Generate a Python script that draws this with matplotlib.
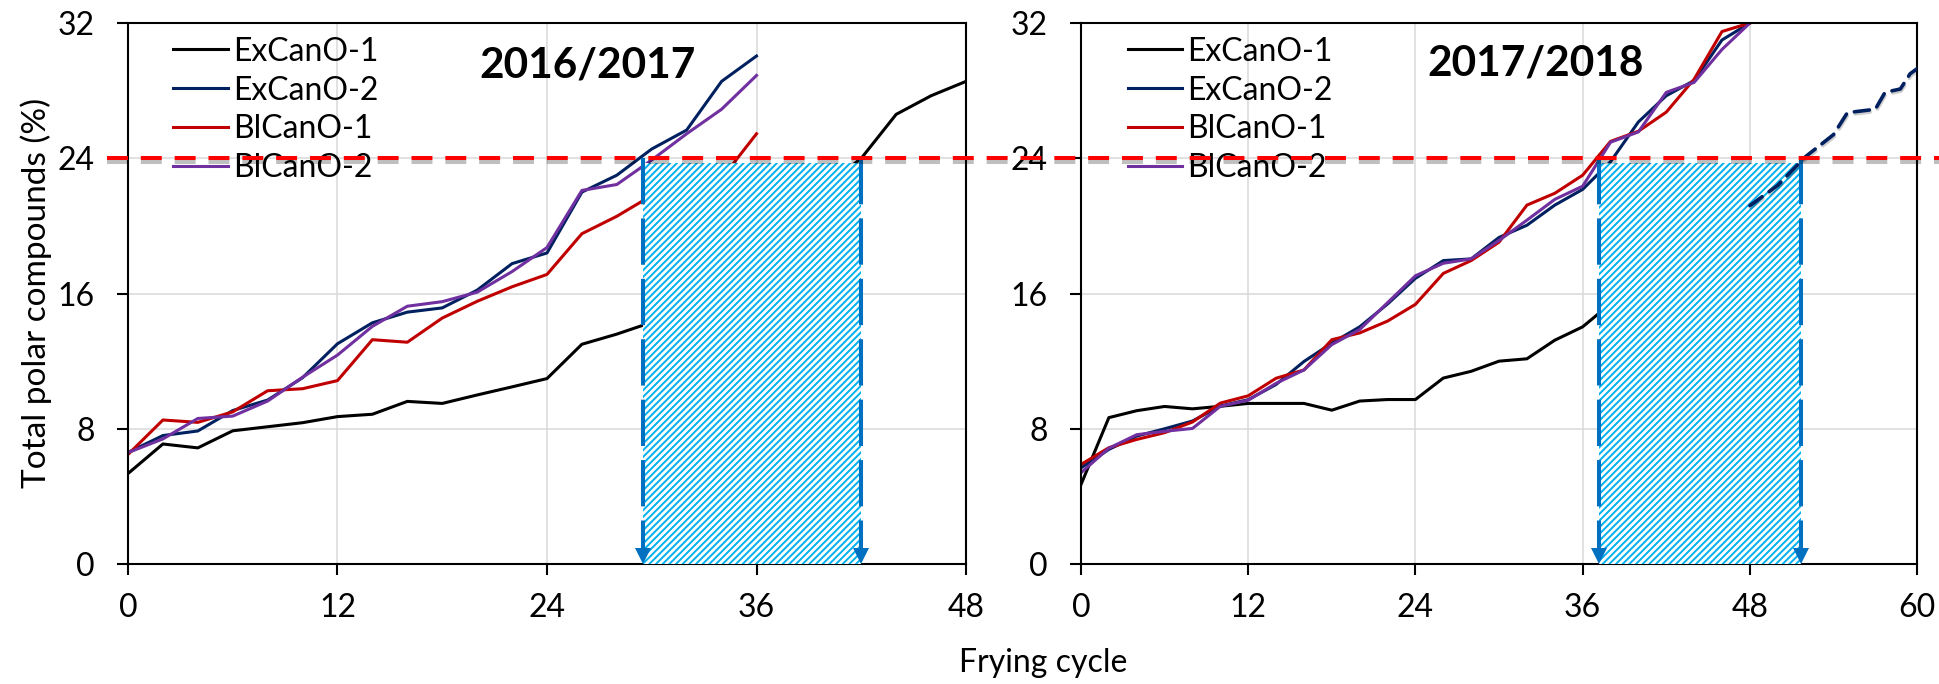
import matplotlib
matplotlib.use("Agg")
import matplotlib.pyplot as plt
import matplotlib.transforms as mtransforms
from matplotlib import patheffects as pe
from matplotlib.lines import Line2D
from matplotlib.patches import Rectangle

plt.rcParams['font.family'] = ['Lato', 'DejaVu Sans']
plt.rcParams['hatch.linewidth'] = 1.4

labels = ["ExCanO-1", "ExCanO-2", "BlCanO-1", "BlCanO-2"]
colors = ["#000000", "#002060", "#C00000", "#7030A0"]

# 2016/2017 season
ex1_a_x = [0, 2, 4, 6, 8, 10, 12, 14, 16, 18, 20, 22, 24, 26, 28, 30, 42, 44, 46, 48]
ex1_a = [5.35, 7.1, 6.87, 7.88, 8.12, 8.36, 8.72, 8.86, 9.62, 9.5, 10.0, 10.48, 10.97,
         13.0, 13.6, 14.3, 24.0, 26.6, 27.7, 28.55]
cyc_a = [0, 2, 4, 6, 8, 10, 12, 14, 16, 18, 20, 22, 24, 26, 28, 30, 32, 34, 36]
ex2_a = [6.6, 7.6, 7.87, 9.08, 9.7, 11.02, 13.03, 14.27, 14.9, 15.15, 16.2, 17.77, 18.4,
         22.0, 23.0, 24.55, 25.67, 28.55, 30.05]
bl1_a_x = [0, 2, 4, 6, 8, 10, 12, 14, 16, 18, 20, 22, 24, 26, 28, 30, 34, 36]
bl1_a = [6.48, 8.52, 8.38, 9.0, 10.25, 10.37, 10.85, 13.27, 13.12, 14.55, 15.54, 16.4,
         17.13, 19.54, 20.57, 21.8, 22.8, 25.45]
bl2_a = [6.59, 7.4, 8.61, 8.75, 9.64, 11.05, 12.36, 14.06, 15.25, 15.52, 16.08, 17.3, 18.72,
         22.1, 22.45, 23.9, 25.45, 26.9, 28.9]

# 2017/2018 season
ex1_b_x = [0, 2, 4, 6, 8, 10, 12, 14, 16, 18, 20, 22, 24, 26, 28, 30, 32, 34, 36, 38]
ex1_b = [4.7, 8.66, 9.07, 9.32, 9.18, 9.33, 9.5, 9.5, 9.5, 9.1, 9.64, 9.73, 9.73, 11.0,
         11.4, 12.0, 12.14, 13.24, 14.03, 15.4]
ex1_proj_x = [48, 50, 52, 54, 55, 57, 57.7, 58.8, 59.5, 60]
ex1_proj = [21.2, 22.4, 24.1, 25.4, 26.7, 26.9, 27.9, 28.1, 29.0, 29.3]
cyc_b = [0, 2, 4, 6, 8, 10, 12, 14, 16, 18, 20, 22, 24, 26, 28, 30, 32, 34, 36, 38, 40,
         42, 44, 46, 48]
ex2_b = [5.69, 6.78, 7.57, 8.0, 8.46, 9.35, 9.72, 10.62, 11.98, 13.07, 14.03, 15.38, 16.9,
         17.95, 18.05, 19.32, 20.04, 21.23, 22.16, 23.8, 26.15, 27.7, 28.6, 31.0, 32.0]
bl1_b = [5.89, 6.88, 7.37, 7.77, 8.4, 9.52, 9.95, 10.99, 11.48, 13.27, 13.67, 14.37, 15.36,
         17.19, 17.95, 19.04, 21.23, 21.93, 23.0, 25.0, 25.6, 26.73, 28.68, 31.5, 32.0]
bl2_b = [5.4, 6.85, 7.65, 7.85, 8.02, 9.33, 9.69, 10.69, 11.48, 12.98, 13.87, 15.46, 17.05,
         17.79, 18.05, 19.14, 20.34, 21.57, 22.35, 24.95, 25.56, 27.9, 28.49, 30.44, 32.0]

limit_tpc = 24
# shaded window between the cycles where the oils pass the limit
window_a = (29.5, 42.0)
window_b = (37.2, 51.7)
window_top = 23.7

fs = 23

fig = plt.figure(figsize=(19.39, 6.84), dpi=100)
ax1 = fig.add_axes([0.0660, 0.1754, 0.4322, 0.7909])
ax2 = fig.add_axes([0.5575, 0.1754, 0.4312, 0.7909])


def style_axes(ax, xmax):
    ax.set_xlim(0, xmax)
    ax.set_ylim(0, 32)
    ax.set_xticks(range(0, xmax + 1, 12))
    ax.set_yticks([0, 8, 16, 24, 32])
    ax.grid(True, color="#D9D9D9", linewidth=1.1, zorder=0)
    ax.set_axisbelow(True)
    for s in ax.spines.values():
        s.set_linewidth(1.5)
        s.set_color("black")
    ax.tick_params(axis="both", which="major", direction="out", length=8, width=1.5,
                   labelsize=fs, top=False, right=False)
    ax.tick_params(axis="y", pad=16)
    ax.tick_params(axis="x", pad=13)


def window(ax, x0, x1):
    r = Rectangle((x0, 0), x1 - x0, window_top, facecolor="white", edgecolor="#00B0F0",
                  hatch="/////", linewidth=0, zorder=3)
    ax.add_patch(r)
    for x in (x0, x1):
        ax.plot([x, x], [limit_tpc, 0.9], color="#0070C0", linewidth=2.9,
                dashes=(11.5, 3.5), zorder=4, solid_capstyle="butt")
        ax.plot([x], [0.5], marker="v", markersize=12, color="#0070C0",
                markeredgewidth=0, zorder=4, clip_on=False)


def legend(ax, x):
    handles = [Line2D([], [], color=c, linewidth=2.2) for c in colors]
    ax.legend(handles, labels, loc="upper left", bbox_to_anchor=(x, 0.975),
              frameon=False, fontsize=fs, handlelength=1.7, handletextpad=0.17,
              labelspacing=0.28, borderpad=0, borderaxespad=0)


lw = 2.2
ax1.plot(ex1_a_x, ex1_a, color=colors[0], lw=lw, zorder=2)
ax1.plot(cyc_a, ex2_a, color=colors[1], lw=lw, zorder=2)
ax1.plot(bl1_a_x, bl1_a, color=colors[2], lw=lw, zorder=2)
ax1.plot(cyc_a, bl2_a, color=colors[3], lw=lw, zorder=2)
style_axes(ax1, 48)
window(ax1, *window_a)
legend(ax1, 0.054)
ax1.text(26.35, 28.77, "2016/2017", fontsize=30.5, fontweight="bold", ha="center",
         va="baseline", zorder=5)

ax2.plot(ex1_b_x, ex1_b, color=colors[0], lw=lw, zorder=2)
ax2.plot(cyc_b, ex2_b, color=colors[1], lw=lw, zorder=2)
ax2.plot(cyc_b, bl1_b, color=colors[2], lw=lw, zorder=2)
ax2.plot(cyc_b, bl2_b, color=colors[3], lw=lw, zorder=2)
style_axes(ax2, 60)
window(ax2, *window_b)
ax2.plot(ex1_proj_x, ex1_proj, color="#002060", lw=2.6, dashes=(4.2, 2.4),
         dash_capstyle="round", zorder=5,
         path_effects=[pe.SimpleLineShadow(offset=(0.5, -1.5), alpha=0.2), pe.Normal()])
legend(ax2, 0.056)
ax2.text(32.6, 28.9, "2017/2018", fontsize=30.5, fontweight="bold", ha="center",
         va="baseline", zorder=5)

# limit line at 24 % across both panels
trans = mtransforms.blended_transform_factory(fig.transFigure, ax1.transData)
limit = Line2D([0.055, 1.0], [limit_tpc, limit_tpc], transform=trans, color="#FF0000",
               linewidth=2.9, dashes=(5.2, 3.2), zorder=10,
               path_effects=[pe.SimpleLineShadow(offset=(0.5, -2.5), alpha=0.25),
                             pe.Normal()])
fig.add_artist(limit)

fig.text(0.0185, 0.571, "Total polar compounds (%)", rotation=90, ha="center",
         va="center", fontsize=24)
fig.text(0.538, 0.031, "Frying cycle", ha="center", va="center", fontsize=fs)

fig.savefig("out.png", dpi=100)
